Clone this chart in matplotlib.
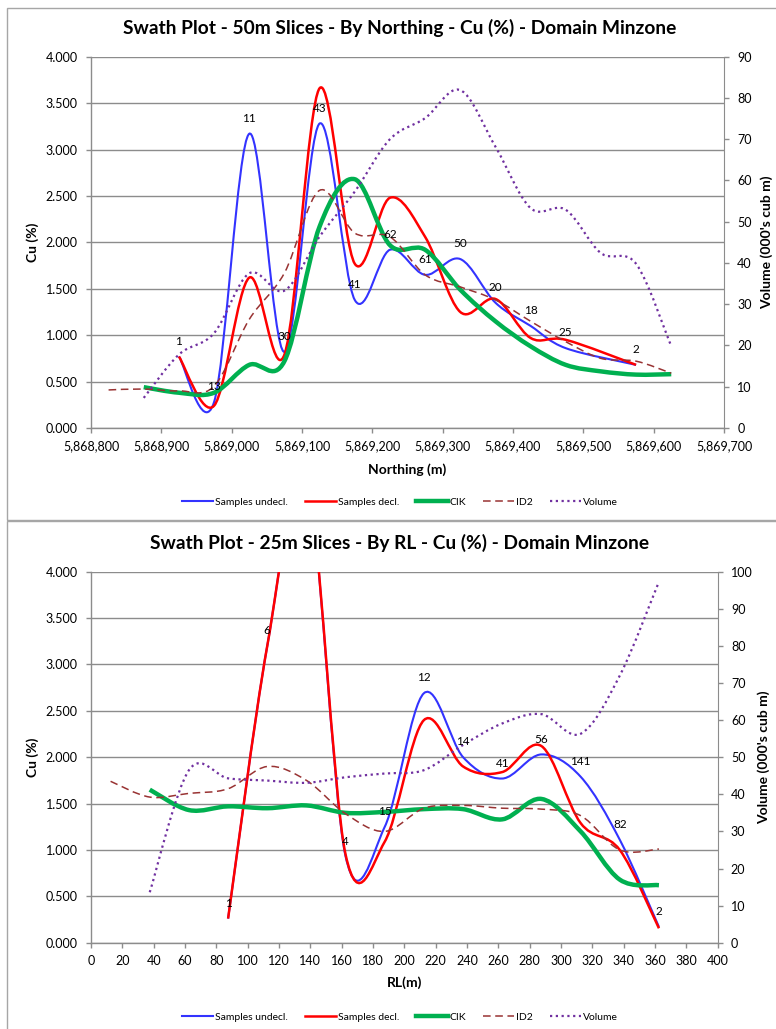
import numpy as np
import matplotlib
matplotlib.use('Agg')
import matplotlib.pyplot as plt
from matplotlib.path import Path
from matplotlib.patches import PathPatch, Rectangle
from matplotlib.lines import Line2D
from matplotlib.ticker import FuncFormatter, MultipleLocator

plt.rcParams['font.family'] = ['Lato', 'DejaVu Sans']

# ---------------- Top chart: 50m slices by Northing ----------------
north_title = "Swath Plot - 50m Slices - By Northing - Cu (%) - Domain Minzone"
north_samp_x = [5868925, 5868975, 5869025, 5869075, 5869125, 5869175, 5869225,
                5869275, 5869325, 5869375, 5869425, 5869475, 5869575]
north_undecl = [0.77, 0.28, 3.17, 0.82, 3.28, 1.38, 1.92, 1.65, 1.82, 1.35, 1.10, 0.86, 0.68]
north_decl = [0.77, 0.24, 1.62, 0.79, 3.66, 1.77, 2.48, 2.06, 1.25, 1.39, 0.97, 0.95, 0.68]
north_counts = [1, 13, 11, 30, 43, 41, 62, 61, 50, 20, 18, 25, 2]
north_cik_x = [5868875, 5868925, 5868975, 5869025, 5869075, 5869125, 5869175, 5869225,
               5869275, 5869325, 5869375, 5869425, 5869475, 5869525, 5869575, 5869625]
north_cik = [0.44, 0.38, 0.38, 0.68, 0.72, 2.17, 2.68, 1.97, 1.92, 1.49, 1.15, 0.88,
             0.68, 0.61, 0.575, 0.58]
north_id2_x = [5868825, 5868875, 5868925, 5868975, 5869025, 5869075, 5869125, 5869175,
               5869225, 5869275, 5869325, 5869375, 5869425, 5869475, 5869525, 5869575, 5869625]
north_id2 = [0.41, 0.42, 0.40, 0.45, 1.17, 1.67, 2.56, 2.10, 2.06, 1.65, 1.52, 1.38,
             1.15, 0.93, 0.75, 0.72, 0.59]
north_vol_x = north_cik_x
north_vol = [7.3, 17.8, 23.0, 37.5, 33.3, 46.4, 57.3, 70.0, 75.1, 81.9, 68.2, 53.3,
             52.9, 42.4, 39.8, 19.8]
north_xticks = [5868800, 5868900, 5869000, 5869100, 5869200, 5869300, 5869400,
                5869500, 5869600, 5869700]

# ---------------- Bottom chart: 25m slices by RL ----------------
rl_title = "Swath Plot - 25m Slices - By RL - Cu (%) - Domain Minzone"
rl_samp_x = [87.5, 112.5, 137.5, 162.5, 187.5, 212.5, 237.5, 262.5, 287.5, 312.5, 337.5, 362.5]
rl_undecl = [0.26, 3.20, 5.00, 0.93, 1.25, 2.69, 2.00, 1.77, 2.03, 1.79, 1.11, 0.17]
rl_decl = [0.26, 3.20, 5.00, 0.95, 1.09, 2.40, 1.90, 1.84, 2.12, 1.29, 1.00, 0.155]
rl_counts = [1, 6, None, 4, 15, 12, 14, 41, 56, 141, 82, 2]
rl_cik_x = [37.5, 62.5, 87.5, 112.5, 137.5, 162.5, 187.5, 212.5, 237.5, 262.5, 287.5,
            312.5, 337.5, 362.5]
rl_cik = [1.65, 1.43, 1.47, 1.45, 1.48, 1.40, 1.41, 1.44, 1.44, 1.33, 1.55, 1.20, 0.68, 0.62]
rl_id2_x = [12.5, 37.5, 62.5, 87.5, 112.5, 137.5, 162.5, 187.5, 212.5, 237.5, 262.5,
            287.5, 312.5, 337.5, 362.5]
rl_id2 = [1.74, 1.57, 1.61, 1.66, 1.90, 1.75, 1.39, 1.20, 1.45, 1.48, 1.45, 1.44, 1.37, 1.00, 1.01]
rl_vol_x = rl_cik_x
rl_vol = [13.6, 46.5, 44.3, 43.7, 43.1, 44.6, 45.6, 46.5, 53.3, 59.1, 61.6, 56.3, 72.0, 97.3]
rl_xticks = [0, 20, 40, 60, 80, 100, 120, 140, 160, 180, 200, 220, 240, 260, 280, 300,
             320, 340, 360, 380, 400]

series_labels = ["Samples undecl.", "Samples decl.", "CIK", "ID2", "Volume"]

# ---------------- styles ----------------
BLUE = '#3333FF'
RED = '#FF0000'
GREEN = '#00B050'
BROWN = '#993333'
PURPLE = '#7030A0'
GRID = '#8C8C8C'
styles = [
    dict(color=BLUE, lw=1.5, ls='-'),
    dict(color=RED, lw=1.8, ls='-'),
    dict(color=GREEN, lw=3.2, ls='-'),
    dict(color=BROWN, lw=1.1, ls=(0, (5, 3))),
    dict(color=PURPLE, lw=1.6, ls=(0, (1, 1.6))),
]

W, H = 776, 1029


def smooth_path(xs, ys):
    P = np.array([(x, y) for x, y in zip(xs, ys)], float)
    n = len(P)
    verts = [P[0]]
    codes = [Path.MOVETO]
    for i in range(n - 1):
        p0 = P[i - 1] if i > 0 else P[i]
        p1 = P[i]
        p2 = P[i + 1]
        p3 = P[i + 2] if i + 2 < n else P[i + 1]
        verts += [p1 + (p2 - p0) / 6.0, p2 - (p3 - p1) / 6.0, p2]
        codes += [Path.CURVE4] * 3
    return Path(verts, codes)


def add_curve(ax, xs, ys, st, z):
    patch = PathPatch(smooth_path(xs, ys), fill=False, edgecolor=st['color'],
                      lw=st['lw'], ls=st['ls'], zorder=z, capstyle='butt',
                      joinstyle='round')
    ax.add_patch(patch)


def fx(px):
    return px / W


def fy(py):
    return 1 - py / H


fig = plt.figure(figsize=(W / 100, H / 100), dpi=100)

# chart-area borders
fig.add_artist(Rectangle((fx(7), fy(519.5)), fx(800), (519.5 - 8) / H, transform=fig.transFigure,
                         fill=False, edgecolor='#A6A6A6', lw=1.0))
fig.add_artist(Rectangle((fx(7), fy(1040)), fx(800), (1040 - 521) / H, transform=fig.transFigure,
                         fill=False, edgecolor='#A6A6A6', lw=1.0))


def build(box, title, title_y, xlab, xlab_y, leg_y, ylab_y, vlab_x,
          samp_x, undecl, decl, counts, cik_x, cik, id2_x, id2, vol_x, vol,
          xlim, xticks, xfmt, vmax):
    l, t, r, b = box
    ax = fig.add_axes([fx(l), fy(b), fx(r - l), (b - t) / H])
    ax.set_xlim(*xlim)
    ax.set_ylim(0, 4)
    ax.set_xticks(xticks)
    ax.xaxis.set_major_formatter(FuncFormatter(xfmt))
    ax.yaxis.set_major_locator(MultipleLocator(0.5))
    ax.yaxis.set_major_formatter(FuncFormatter(lambda v, p: f"{v:.3f}"))
    ax.yaxis.grid(True, color=GRID, lw=1.0)
    ax.set_axisbelow(True)
    for s in ['top', 'right']:
        ax.spines[s].set_visible(False)
    for s in ['left', 'bottom']:
        ax.spines[s].set_color(GRID)
        ax.spines[s].set_linewidth(1.0)
    ax.tick_params(axis='both', direction='out', length=3.5, width=1, color=GRID,
                   labelsize=9, labelcolor='black')
    ax.tick_params(axis='y', pad=6)
    ax.tick_params(axis='x', pad=5)

    add_curve(ax, samp_x, undecl, styles[0], 3)
    add_curve(ax, samp_x, decl, styles[1], 4)
    add_curve(ax, cik_x, cik, styles[2], 5)
    add_curve(ax, id2_x, id2, styles[3], 6)

    ax2 = ax.twinx()
    ax2.set_ylim(0, vmax)
    ax2.yaxis.set_major_locator(MultipleLocator(10))
    ax2.yaxis.set_major_formatter(FuncFormatter(lambda v, p: f"{v:.0f}"))
    for s in ['top', 'left', 'bottom']:
        ax2.spines[s].set_visible(False)
    ax2.spines['right'].set_color(GRID)
    ax2.tick_params(axis='y', direction='out', length=3.5, width=1, color=GRID,
                    labelsize=9, pad=6)
    add_curve(ax2, vol_x, vol, styles[4], 7)

    for x, y, c in zip(samp_x, undecl, counts):
        if c is None:
            continue
        ax2.annotate(str(c), xy=(x, y), xycoords=ax.transData, xytext=(0, 7),
                     textcoords='offset points', ha='center', va='bottom',
                     fontsize=8.5, zorder=10, annotation_clip=True)

    fig.text(fx(400), fy(title_y), title, ha='center', va='center', fontsize=13.8,
             fontweight='bold')
    fig.text(fx(33), fy(ylab_y), "Cu (%)", ha='center', va='center', rotation=90,
             fontsize=10, fontweight='bold')
    fig.text(fx(vlab_x), fy(ylab_y), "Volume (000's cub m)", ha='center', va='center',
             rotation=90, fontsize=10, fontweight='bold')
    fig.text(fx((l + r) / 2), fy(xlab_y), xlab, ha='center', va='center', fontsize=10,
             fontweight='bold')

    handles = [Line2D([], [], color=st['color'], lw=st['lw'], ls=st['ls']) for st in styles]
    fig.legend(handles, series_labels, loc='center', bbox_to_anchor=(fx(400), fy(leg_y)),
               ncol=5, frameon=False, fontsize=7.5, handlelength=3.0, handletextpad=0.2,
               columnspacing=1.6)
    return ax, ax2


build((91, 56.7, 724, 428), north_title, 28, "Northing (m)", 470, 502, 242, 767,
      north_samp_x, north_undecl, north_decl, north_counts,
      north_cik_x, north_cik, north_id2_x, north_id2, north_vol_x, north_vol,
      (5868800, 5869700), north_xticks, lambda v, p: f"{v:,.0f}", 90)

build((91, 571.7, 717.7, 942.7), rl_title, 543, "RL(m)", 983, 1017, 757, 764,
      rl_samp_x, rl_undecl, rl_decl, rl_counts,
      rl_cik_x, rl_cik, rl_id2_x, rl_id2, rl_vol_x, rl_vol,
      (0, 400), rl_xticks, lambda v, p: f"{v:.0f}", 100)

fig.savefig('out.png', dpi=100)
